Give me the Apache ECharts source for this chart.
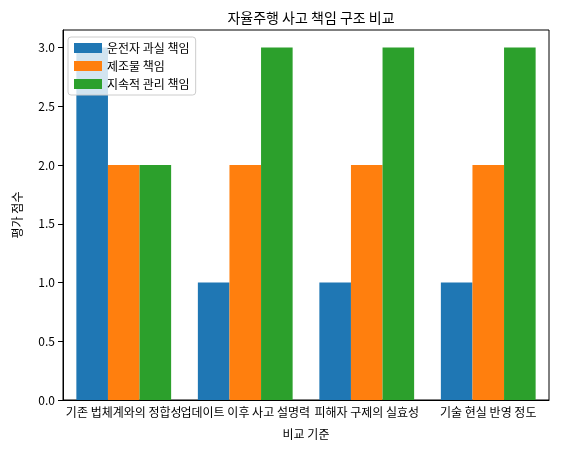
<!DOCTYPE html><html><head><meta charset="utf-8"><script src="https://cdn.jsdelivr.net/npm/echarts@6/dist/echarts.min.js"></script></head><body style="margin:0"><div id="c" style="width:564px;height:454px"></div><script>
const categories=["기존 법체계와의 정합성","업데이트 이후 사고 설명력","피해자 구제의 실효성","기술 현실 반영 정도"];
const driver=[3,1,1,1];
const maker=[2,2,2,2];
const mgmt=[2,3,3,3];
const names=["운전자 과실 책임","제조물 책임","지속적 관리 책임"];
const colors=["#1f77b4","#ff7f0e","#2ca02c"];
const F="Noto Sans CJK KR";
const ch=echarts.init(document.getElementById('c'));
ch.setOption({animation:false,textStyle:{fontFamily:F},
title:{text:"자율주행 사고 책임 구조 비교",left:306,top:6,textAlign:'center',textStyle:{fontFamily:F,fontSize:14,fontWeight:'normal',color:'#000'}},
legend:{left:68,top:37,orient:'vertical',itemWidth:28,itemHeight:10,itemGap:6,borderColor:'#ccc',borderWidth:1,borderRadius:3,padding:[5,6],backgroundColor:'rgba(255,255,255,0.8)',textStyle:{fontFamily:F,fontSize:12,color:'#000'},icon:'rect'},
grid:{left:63,right:15,top:30,bottom:54,show:true,borderColor:'#000',borderWidth:1},
xAxis:{type:'category',data:categories,name:"비교 기준",nameLocation:'middle',nameGap:28,nameTextStyle:{fontFamily:F,fontSize:12,color:'#000'},axisLine:{lineStyle:{color:'#000'}},axisTick:{alignWithLabel:true,lineStyle:{color:'#000'}},axisLabel:{interval:0,fontFamily:F,fontSize:12,color:'#000',margin:6}},
yAxis:{type:'value',min:0,max:3.15,interval:0.5,name:"평가 점수",nameLocation:'middle',nameGap:40,nameTextStyle:{fontFamily:F,fontSize:12,color:'#000'},splitLine:{show:false},axisLine:{show:true,lineStyle:{color:'#000'}},axisTick:{show:true,lineStyle:{color:'#000'}},axisLabel:{fontFamily:F,fontSize:12,color:'#000',formatter:v=>v.toFixed(1),showMaxLabel:false}},
series:[driver,maker,mgmt].map((d,i)=>({type:'bar',name:names[i],data:d,itemStyle:{color:colors[i]},barGap:'0%',barCategoryGap:'22%'}))
});
</script></body></html>
